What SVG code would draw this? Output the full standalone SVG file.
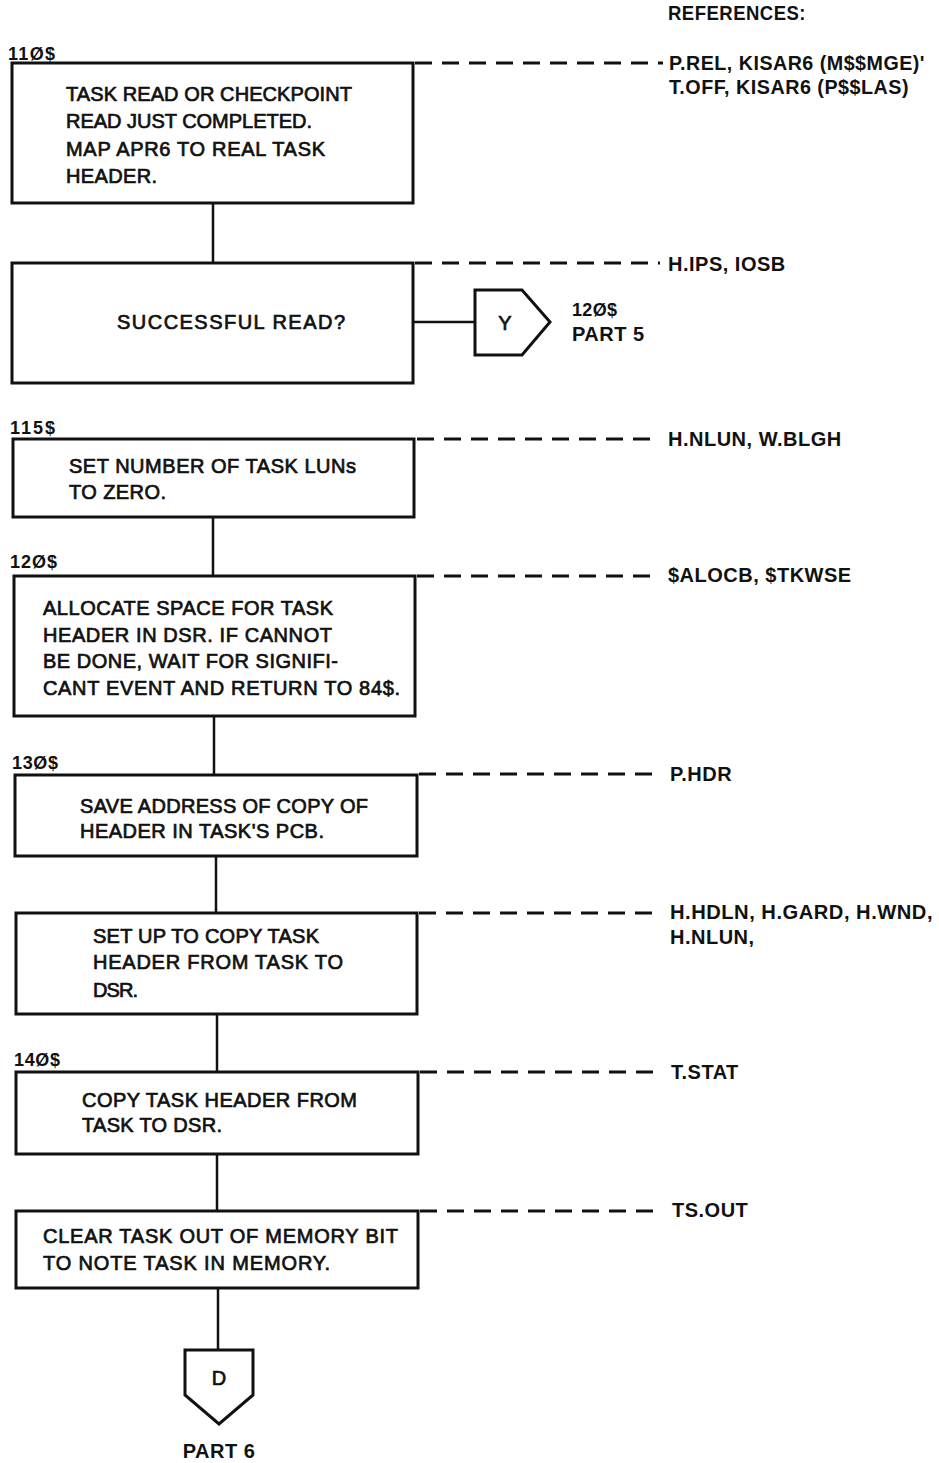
<svg xmlns="http://www.w3.org/2000/svg" width="939" height="1463" viewBox="0 0 939 1463">
<style>
.box{fill:#fff;stroke:#111;stroke-width:3}
.con{stroke:#111;stroke-width:2.5;fill:none}
.dash{stroke:#111;stroke-width:3;stroke-dasharray:17 10;fill:none}
.t{font-family:"Liberation Sans",Arial,sans-serif;font-size:20px;fill:#111;stroke:#111;stroke-width:0.7}
.lbl{font-family:"Liberation Sans",Arial,sans-serif;font-size:18px;font-weight:bold;fill:#111}
.ref{font-family:"Liberation Sans",Arial,sans-serif;font-size:20px;font-weight:bold;fill:#111;letter-spacing:0.5px}
</style>
<rect width="939" height="1463" fill="#fff"/>
<g id="connectors">
<line class="con" x1="213" y1="203" x2="213" y2="263"/>
<line class="con" x1="413" y1="322" x2="475" y2="322"/>
<line class="con" x1="213" y1="517" x2="213" y2="576"/>
<line class="con" x1="214" y1="716" x2="214" y2="775"/>
<line class="con" x1="216" y1="856" x2="216" y2="913"/>
<line class="con" x1="217" y1="1014" x2="217" y2="1072"/>
<line class="con" x1="217" y1="1154" x2="217" y2="1211"/>
<line class="con" x1="218" y1="1288" x2="218" y2="1350"/>
<line class="dash" x1="415" y1="63" x2="663" y2="63"/>
<line class="dash" x1="415" y1="263" x2="660" y2="263"/>
<line class="dash" x1="417" y1="439" x2="660" y2="439"/>
<line class="dash" x1="417" y1="576" x2="660" y2="576"/>
<line class="dash" x1="419" y1="774" x2="660" y2="774"/>
<line class="dash" x1="419" y1="913" x2="660" y2="913"/>
<line class="dash" x1="420" y1="1072" x2="660" y2="1072"/>
<line class="dash" x1="420" y1="1211" x2="660" y2="1211"/>
</g>
<g id="refs-header"><text class="ref" x="668" y="20" textLength="138" lengthAdjust="spacingAndGlyphs">REFERENCES:</text></g>
<g id="n110">
<text class="lbl" x="8" y="60" textLength="47" lengthAdjust="spacing">11Ø$</text>
<rect class="box" x="12" y="63" width="401" height="140"/>
<text class="t" x="66" y="101" textLength="286" lengthAdjust="spacing">TASK READ OR CHECKPOINT</text>
<text class="t" x="66" y="128" textLength="246" lengthAdjust="spacing">READ JUST COMPLETED.</text>
<text class="t" x="66" y="156" textLength="259" lengthAdjust="spacing">MAP APR6 TO REAL TASK</text>
<text class="t" x="66" y="183" textLength="91" lengthAdjust="spacing">HEADER.</text>
<text class="ref" x="669" y="70" textLength="256" lengthAdjust="spacingAndGlyphs">P.REL, KISAR6 (M$$MGE)'</text>
<text class="ref" x="669" y="94" textLength="240" lengthAdjust="spacingAndGlyphs">T.OFF, KISAR6 (P$$LAS)</text>
</g>
<g id="nread">
<rect class="box" x="12" y="263" width="401" height="120"/>
<text class="t" x="117" y="329" textLength="228" lengthAdjust="spacing">SUCCESSFUL READ?</text>
<text class="ref" x="668" y="271">H.IPS, IOSB</text>
</g>
<g id="offY">
<polygon class="box" points="475,290 522,290 550,322 522,355 475,355"/>
<text class="t" x="505" y="330" text-anchor="middle">Y</text>
<text class="lbl" x="572" y="316" textLength="45" lengthAdjust="spacing">12Ø$</text>
<text class="ref" x="572" y="341">PART 5</text>
</g>
<g id="n115">
<text class="lbl" x="10" y="434" textLength="45" lengthAdjust="spacing">115$</text>
<rect class="box" x="13" y="439" width="401" height="78"/>
<text class="t" x="69" y="473" textLength="287" lengthAdjust="spacing">SET NUMBER OF TASK LUNs</text>
<text class="t" x="69" y="499" textLength="97" lengthAdjust="spacing">TO ZERO.</text>
<text class="ref" x="668" y="446">H.NLUN, W.BLGH</text>
</g>
<g id="n120">
<text class="lbl" x="10" y="568" textLength="47" lengthAdjust="spacing">12Ø$</text>
<rect class="box" x="14" y="576" width="401" height="140"/>
<text class="t" x="43" y="615" textLength="290" lengthAdjust="spacing">ALLOCATE SPACE FOR TASK</text>
<text class="t" x="43" y="642" textLength="289" lengthAdjust="spacing">HEADER IN DSR. IF CANNOT</text>
<text class="t" x="43" y="668" textLength="295" lengthAdjust="spacing">BE DONE, WAIT FOR SIGNIFI-</text>
<text class="t" x="43" y="695" textLength="357" lengthAdjust="spacing">CANT EVENT AND RETURN TO 84$.</text>
<text class="ref" x="668" y="582">$ALOCB, $TKWSE</text>
</g>
<g id="n130">
<text class="lbl" x="12" y="769" textLength="46" lengthAdjust="spacing">13Ø$</text>
<rect class="box" x="15" y="775" width="402" height="81"/>
<text class="t" x="80" y="813" textLength="288" lengthAdjust="spacing">SAVE ADDRESS OF COPY OF</text>
<text class="t" x="80" y="838" textLength="244" lengthAdjust="spacing">HEADER IN TASK'S PCB.</text>
<text class="ref" x="670" y="781">P.HDR</text>
</g>
<g id="nsetup">
<rect class="box" x="16" y="913" width="401" height="101"/>
<text class="t" x="93" y="943" textLength="226" lengthAdjust="spacing">SET UP TO COPY TASK</text>
<text class="t" x="93" y="969" textLength="250" lengthAdjust="spacing">HEADER FROM TASK TO</text>
<text class="t" x="93" y="997" textLength="45" lengthAdjust="spacing">DSR.</text>
<text class="ref" x="670" y="919" textLength="263" lengthAdjust="spacingAndGlyphs">H.HDLN, H.GARD, H.WND,</text>
<text class="ref" x="670" y="944">H.NLUN,</text>
</g>
<g id="n140">
<text class="lbl" x="14" y="1066" textLength="46" lengthAdjust="spacing">14Ø$</text>
<rect class="box" x="16" y="1072" width="402" height="82"/>
<text class="t" x="82" y="1107" textLength="275" lengthAdjust="spacing">COPY TASK HEADER FROM</text>
<text class="t" x="82" y="1132" textLength="140" lengthAdjust="spacing">TASK TO DSR.</text>
<text class="ref" x="671" y="1079">T.STAT</text>
</g>
<g id="nclear">
<rect class="box" x="16" y="1211" width="402" height="77"/>
<text class="t" x="43" y="1243" textLength="355" lengthAdjust="spacing">CLEAR TASK OUT OF MEMORY BIT</text>
<text class="t" x="43" y="1270" textLength="287" lengthAdjust="spacing">TO NOTE TASK IN MEMORY.</text>
<text class="ref" x="672" y="1217">TS.OUT</text>
</g>
<g id="offD">
<polygon class="box" points="185,1350 253,1350 253,1395 219,1424 185,1395"/>
<text class="t" x="219" y="1385" text-anchor="middle">D</text>
<text class="ref" x="219" y="1458" text-anchor="middle">PART 6</text>
</g>
</svg>
